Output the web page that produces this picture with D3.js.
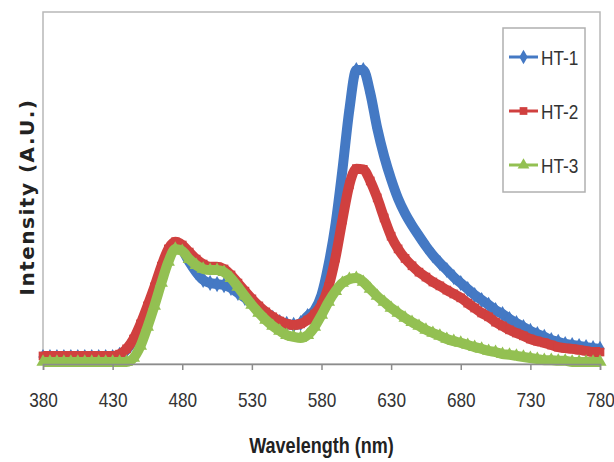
<!DOCTYPE html>
<html>
<head>
<meta charset="utf-8">
<script src="https://cdn.jsdelivr.net/npm/d3@7"></script>
<style>
  body { margin: 0; background: #fff; }
  svg { display: block; }
</style>
</head>
<body>
<div id="chart"></div>
<script>
// wavelength categories (nm), 5 nm steps
const wavelengths = d3.range(380, 781, 5);
const tick_labels = [380, 430, 480, 530, 580, 630, 680, 730, 780];

// intensities (% of plot height)
const ht_1 = [
    2.0, 2.0, 2.0, 2.0, 2.0, 2.0, 2.0, 2.0, 2.0, 2.0, 2.0,
    2.6, 4.0, 6.8, 10.8, 15.6, 21.0, 27.3, 31.8, 33.8, 32.4,
    29.0, 26.1, 23.9, 23.0, 22.7, 22.4, 21.6, 20.2, 18.8, 17.3,
    15.6, 14.2, 13.1, 11.9, 11.4, 11.1, 11.6, 13.6, 15.3, 19.6,
    28.1, 39.5, 55.1, 72.2, 83.5, 83.5, 77.0, 67.0, 59.0, 52.5,
    47.0, 42.8, 39.4, 36.4, 33.5, 30.9, 28.7, 26.7, 24.7, 23.0,
    21.3, 19.6, 18.2, 16.8, 15.3, 14.2, 12.8, 11.6, 10.5, 9.4,
    8.5, 7.7, 6.8, 6.3, 5.7, 5.4, 5.1, 4.8, 4.5, 4.3
];
const ht_2 = [
    2.3, 2.3, 2.3, 2.3, 2.3, 2.3, 2.3, 2.3, 2.3, 2.3, 2.3,
    2.8, 4.3, 7.1, 11.4, 16.5, 21.9, 27.8, 32.7, 34.7, 33.8,
    31.8, 29.8, 28.4, 27.6, 27.6, 27.0, 25.3, 23.0, 20.7, 18.5,
    16.5, 14.8, 13.4, 12.2, 11.4, 11.1, 11.4, 12.5, 14.2, 16.8,
    21.9, 30.1, 40.9, 50.9, 55.5, 55.3, 52.0, 47.2, 41.5, 36.3,
    32.7, 30.0, 27.9, 26.1, 24.7, 23.3, 22.2, 21.0, 19.9, 18.8,
    17.3, 15.9, 14.5, 13.4, 11.9, 10.8, 9.7, 8.8, 8.0, 7.1,
    6.5, 6.0, 5.4, 4.8, 4.5, 4.3, 4.0, 3.7, 3.4, 3.4
];
const ht_3 = [
    0.6, 0.6, 0.6, 0.6, 0.6, 0.6, 0.6, 0.6, 0.6, 0.6, 0.6,
    0.6, 0.6, 1.7, 5.1, 10.5, 16.5, 23.0, 29.0, 32.7, 32.1,
    29.8, 28.1, 27.0, 26.7, 26.7, 26.1, 24.4, 21.9, 19.3, 16.8,
    14.5, 12.5, 10.8, 9.4, 8.2, 7.7, 7.4, 8.2, 10.5, 13.9,
    17.6, 20.7, 23.0, 24.1, 24.4, 23.3, 21.3, 19.3, 17.6, 15.9,
    14.5, 13.1, 11.9, 10.8, 9.7, 8.8, 8.0, 7.1, 6.5, 6.0,
    5.4, 4.8, 4.3, 3.7, 3.4, 2.8, 2.6, 2.3, 2.0, 1.7,
    1.4, 1.1, 1.1, 0.9, 0.9, 0.6, 0.6, 0.6, 0.6, 0.6
];
const series_names = ["HT-1", "HT-2", "HT-3"];
const series_colors = ["#4479c4", "#d0403f", "#93c052"];
const series_symbols = [d3.symbolDiamond, d3.symbolSquare, d3.symbolTriangle];

let width = 614, height = 462;
let plot_left = 43, plot_right = 600, plot_top = 12, plot_bottom = 364;
let narrow = "scale(0.82,1)";   // the reference text is squeezed sideways
let label_font = "'Liberation Sans', Arial, sans-serif";

let svg = d3.select("#chart")
    .append("svg")
    .attr("width", width)
    .attr("height", height);

let x = d3.scaleLinear()
    .domain([380, 780])
    .range([plot_left, plot_right]);

let y = d3.scaleLinear()
    .domain([0, 100])
    .range([plot_bottom, plot_top]);

// plot area border
svg.append("rect")
    .attr("x", plot_left)
    .attr("y", plot_top)
    .attr("width", plot_right - plot_left)
    .attr("height", plot_bottom - plot_top)
    .attr("fill", "none")
    .attr("stroke", "#b8b8b8")
    .attr("stroke-width", 1.5);

let series = [ht_1, ht_2, ht_3].map(function(vals, i) {
    return {
        name: series_names[i],
        color: series_colors[i],
        symbol: series_symbols[i],
        points: wavelengths.map(function(w, j) { return [w, vals[j]]; })
    };
});

let line = d3.line()
    .x(function(d) { return x(d[0]); })
    .y(function(d) { return y(d[1]); })
    .curve(d3.curveMonotoneX);

let g_series = svg.selectAll(".series")
    .data(series)
    .enter().append("g")
    .attr("class", "series");

g_series.append("path")
    .attr("d", function(d) { return line(d.points); })
    .attr("fill", "none")
    .attr("stroke", function(d) { return d.color; })
    .attr("stroke-width", 10)
    .attr("stroke-linejoin", "round");

g_series.each(function(s) {
    d3.select(this).selectAll(".mark")
        .data(s.points)
        .enter().append("path")
        .attr("class", "mark")
        .attr("d", d3.symbol().type(s.symbol).size(75))
        .attr("transform", function(d) { return "translate(" + x(d[0]) + "," + y(d[1]) + ")"; })
        .attr("fill", s.color);
});

// x axis
let x_axis = svg.append("g")
    .attr("transform", "translate(0," + plot_bottom + ")")
    .call(d3.axisBottom(x)
        .tickValues(tick_labels)
        .tickSize(6)
        .tickPadding(22)
        .tickFormat(d3.format("d")));

x_axis.select(".domain").attr("stroke", "#8c8c8c").attr("stroke-width", 1.5);
x_axis.selectAll(".tick line").attr("stroke", "#8c8c8c").attr("stroke-width", 1.5);
x_axis.selectAll(".tick text")
    .attr("transform", narrow)
    .style("font-family", label_font)
    .style("font-size", "21px")
    .attr("fill", "#333");

// axis titles
svg.append("text")
    .text("Wavelength (nm)")
    .attr("transform", "translate(" + ((plot_left + plot_right) / 2) + ",453) " + narrow)
    .style("text-anchor", "middle")
    .style("font-family", label_font)
    .style("font-weight", "bold")
    .style("font-size", "22px")
    .attr("fill", "#222");

svg.append("text")
    .text("Intensity (A.U.)")
    .attr("transform", "translate(34,197) rotate(-90)")
    .style("text-anchor", "middle")
    .style("font-family", "'DejaVu Sans', sans-serif")
    .style("font-weight", "bold")
    .style("font-size", "20px")
    .style("letter-spacing", "1.5px")
    .attr("fill", "#222");

// legend
let legend_x = 503, legend_y = 28, legend_w = 82, legend_h = 164;
svg.append("rect")
    .attr("x", legend_x)
    .attr("y", legend_y)
    .attr("width", legend_w)
    .attr("height", legend_h)
    .attr("fill", "#fff")
    .attr("stroke", "#b0b0b0")
    .attr("stroke-width", 1.5);

let legend = svg.selectAll(".legend")
    .data(series)
    .enter().append("g")
    .attr("class", "legend")
    .attr("transform", function(d, i) { return "translate(" + legend_x + "," + (legend_y + 29 + i * 54) + ")"; });

legend.append("line")
    .attr("x1", 6)
    .attr("x2", 35)
    .attr("stroke", function(d) { return d.color; })
    .attr("stroke-width", 3);

legend.append("path")
    .attr("d", function(d) { return d3.symbol().type(d.symbol).size(60)(); })
    .attr("transform", "translate(20.5,0)")
    .attr("fill", function(d) { return d.color; });

legend.append("text")
    .text(function(d) { return d.name; })
    .attr("transform", "translate(38,8) " + narrow)
    .style("font-family", label_font)
    .style("font-size", "21px")
    .attr("fill", "#333");
</script>
</body>
</html>
